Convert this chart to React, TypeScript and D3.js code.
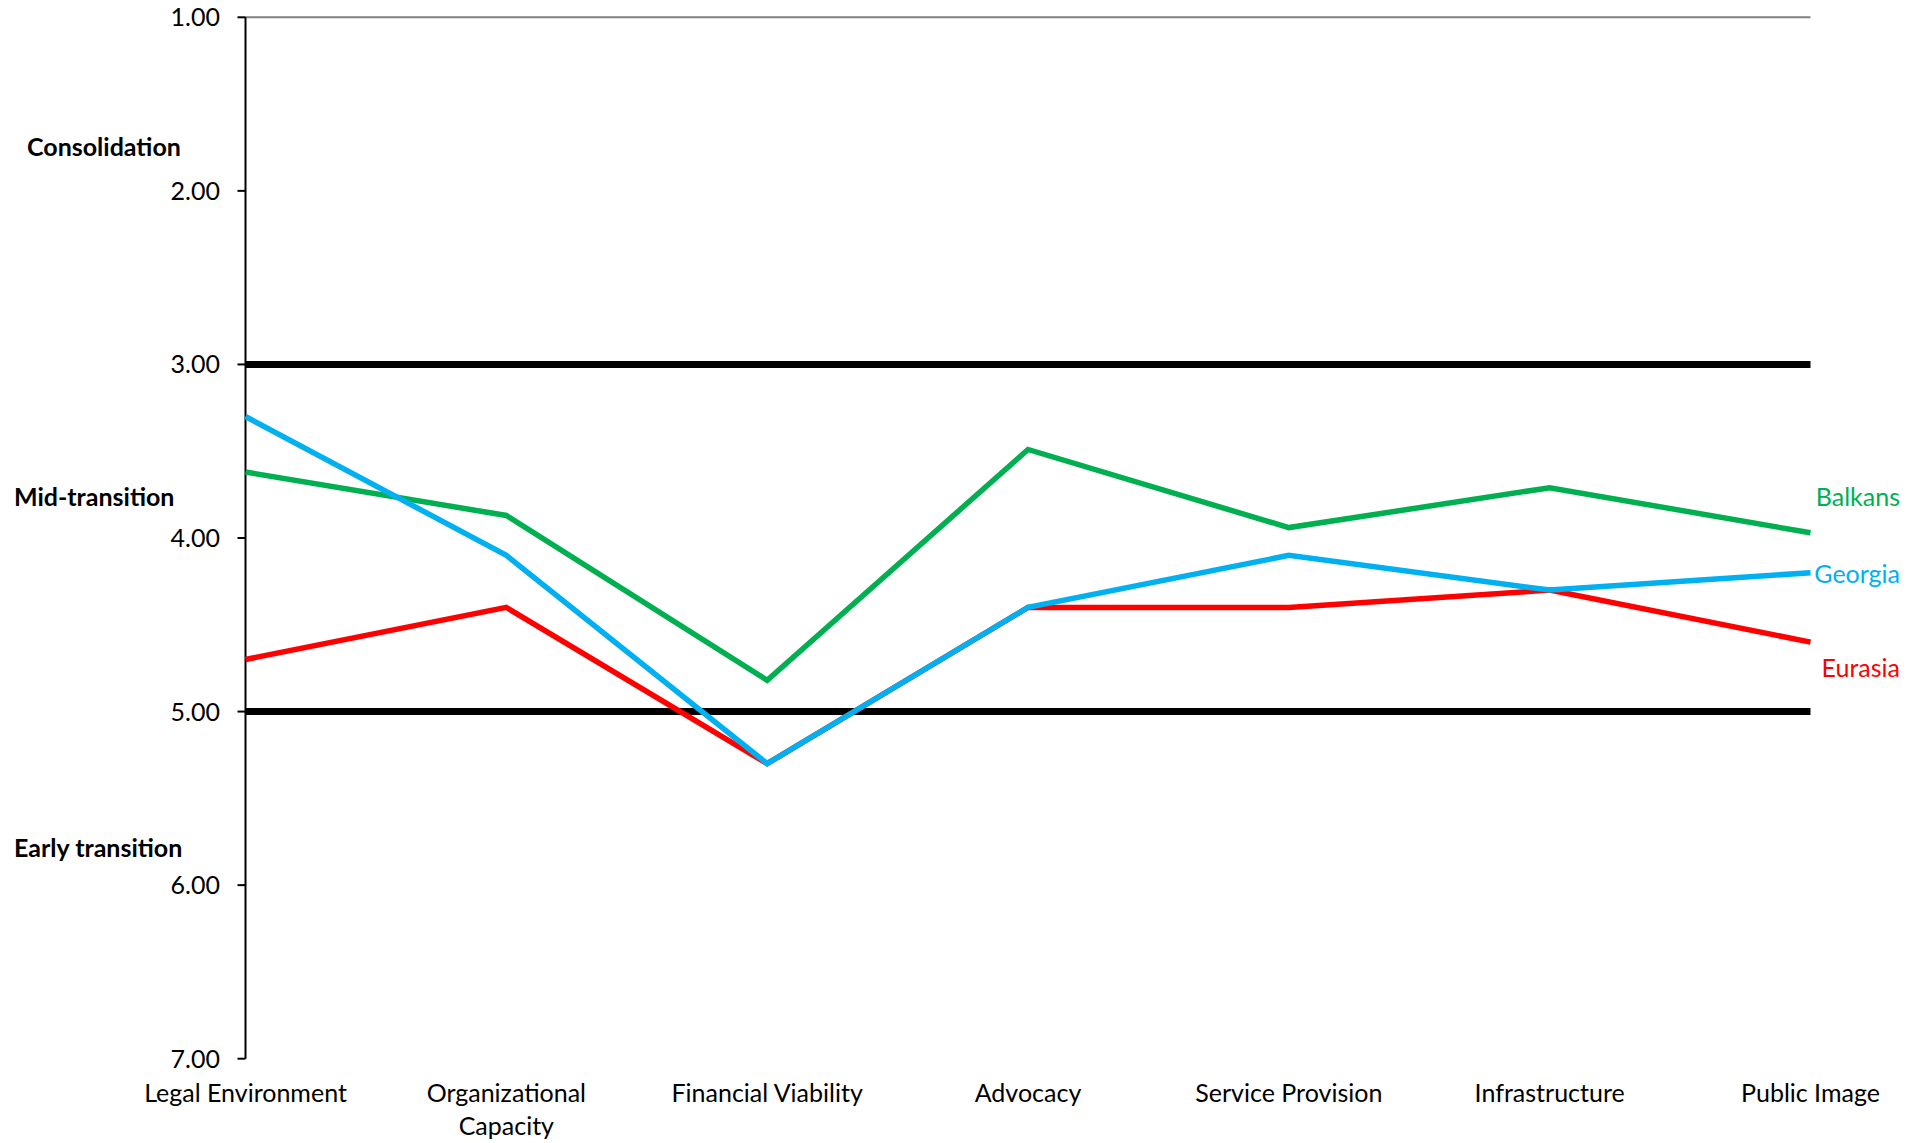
import React from "react";
import * as d3 from "d3";

const categories = [
  "Legal Environment",
  "Organizational Capacity",
  "Financial Viability",
  "Advocacy",
  "Service Provision",
  "Infrastructure",
  "Public Image",
];
const categoryLines: string[][] = [
  ["Legal Environment"],
  ["Organizational", "Capacity"],
  ["Financial Viability"],
  ["Advocacy"],
  ["Service Provision"],
  ["Infrastructure"],
  ["Public Image"],
];
const balkans = [3.62, 3.87, 4.82, 3.49, 3.94, 3.71, 3.97];
const eurasia = [4.7, 4.4, 5.3, 4.4, 4.4, 4.3, 4.6];
const georgia = [3.3, 4.1, 5.3, 4.4, 4.1, 4.3, 4.2];
const yTicks = [1, 2, 3, 4, 5, 6, 7];
const thresholds = [3, 5];
const stageLabels = ["Consolidation", "Mid-transition", "Early transition"];
const stageValues = [1.74, 3.76, 5.78];
const stageX = [27, 14, 14];

const seriesList = [
  { name: "Balkans", values: balkans, color: "#00B050", labelY: 496 },
  { name: "Eurasia", values: eurasia, color: "#FF0000", labelY: 667 },
  { name: "Georgia", values: georgia, color: "#00B0F0", labelY: 573 },
];

const W = 1923;
const H = 1143;
const FONT = "Lato, 'Open Sans', sans-serif";
const FS = 25;

export default function App() {
  const x = d3.scalePoint<string>().domain(categories).range([245.5, 1810.5]).padding(0);
  const y = d3.scaleLinear().domain([1, 7]).range([17.3, 1058.7]);
  const line = d3
    .line<number>()
    .x((_, i) => x(categories[i]) as number)
    .y((d) => y(d));
  const x0 = x(categories[0]) as number;
  const x1 = x(categories[categories.length - 1]) as number;

  return (
    <svg
      width={W}
      height={H}
      style={{ position: "absolute", left: 0, top: 0, background: "#fff" }}
      fontFamily={FONT}
    >
      <line x1={x0} x2={x1} y1={y(1)} y2={y(1)} stroke="#808080" strokeWidth={2} />
      {thresholds.map((t) => (
        <line key={t} x1={x0} x2={x1} y1={y(t)} y2={y(t)} stroke="#000" strokeWidth={7} />
      ))}
      <line x1={x0} x2={x0} y1={y(1)} y2={y(7)} stroke="#000" strokeWidth={2} />
      {yTicks.map((t) => (
        <g key={t}>
          <line x1={x0 - 8} x2={x0} y1={y(t)} y2={y(t)} stroke="#000" strokeWidth={2} />
          <text
            x={220}
            y={y(t) - 1}
            textAnchor="end"
            dominantBaseline="central"
            fontSize={FS}
            fill="#000"
          >
            {t.toFixed(2)}
          </text>
        </g>
      ))}
      {seriesList.map((s) => (
        <path
          key={s.name}
          d={line(s.values) || ""}
          fill="none"
          stroke={s.color}
          strokeWidth={5.5}
          strokeLinejoin="miter"
        />
      ))}
      {seriesList.map((s) => (
        <text
          key={s.name + "l"}
          x={1900}
          y={s.labelY}
          textAnchor="end"
          dominantBaseline="central"
          fontSize={FS}
          fill={s.color}
        >
          {s.name}
        </text>
      ))}
      {categories.map((c, i) => (
        <text key={c} x={x(c) as number} textAnchor="middle" fontSize={FS} fill="#000">
          {categoryLines[i].map((ln, j) => (
            <tspan key={j} x={x(c) as number} y={1092 + j * 33} dominantBaseline="central">
              {ln}
            </tspan>
          ))}
        </text>
      ))}
      {stageLabels.map((s, i) => (
        <text
          key={s}
          x={stageX[i]}
          y={y(stageValues[i])}
          dominantBaseline="central"
          fontSize={FS}
          fontWeight="bold"
          fill="#000"
        >
          {s}
        </text>
      ))}
    </svg>
  );
}
